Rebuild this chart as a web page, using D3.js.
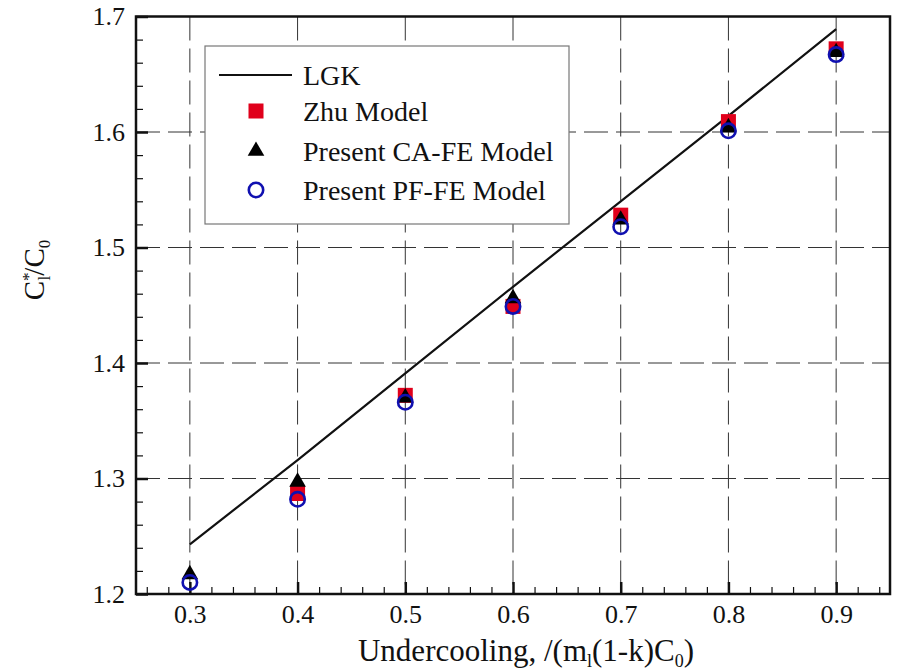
<!DOCTYPE html>
<html>
<head>
<meta charset="utf-8">
<script src="https://cdn.jsdelivr.net/npm/d3@7"></script>
<style>
  body { margin: 0; background: #fff; }
  text { font-family: "Liberation Serif", "Times New Roman", serif; fill: #111; }
</style>
</head>
<body>
<svg id="chart" width="898" height="672"></svg>
<script>
// data (no Zhu point visible at 0.3)
const undercooling = [0.3, 0.4, 0.5, 0.6, 0.7, 0.8, 0.9];
const lgk     = [1.243, 1.316, 1.391, 1.466, 1.540, 1.614, 1.689];
const zhu     = [null, 1.287, 1.372, 1.449, 1.528, 1.609, 1.672];
const caFe    = [1.217, 1.297, 1.370, 1.456, 1.524, 1.604, 1.669];
const pfFe    = [1.210, 1.282, 1.366, 1.449, 1.518, 1.601, 1.667];
const xTicks  = [0.3, 0.4, 0.5, 0.6, 0.7, 0.8, 0.9];
const yTicks  = [1.2, 1.3, 1.4, 1.5, 1.6, 1.7];
const legendNames = ['LGK', 'Zhu Model', 'Present CA-FE Model', 'Present PF-FE Model'];

const margin = {top: 16.5, right: 8, bottom: 78, left: 136};
const width = 898 - margin.left - margin.right;
const height = 672 - margin.top - margin.bottom;

const svg = d3.select('#chart');
const g = svg.append('g').attr('transform', `translate(${margin.left},${margin.top})`);

const x = d3.scaleLinear().domain([0.25, 0.95]).range([0, width]);
const y = d3.scaleLinear().domain([1.2, 1.7]).range([height, 0]);

const pts = vals => vals.map((v, i) => ({u: undercooling[i], v})).filter(d => d.v != null);

// dashed grid
g.append('g').selectAll('line').data(xTicks).join('line')
  .attr('x1', d => x(d)).attr('x2', d => x(d))
  .attr('y1', 0).attr('y2', height)
  .attr('stroke', '#333').attr('stroke-width', 1).attr('stroke-dasharray', '24,8');
g.append('g').selectAll('line').data(yTicks.slice(1, -1)).join('line')
  .attr('x1', 0).attr('x2', width)
  .attr('y1', d => y(d)).attr('y2', d => y(d))
  .attr('stroke', '#333').attr('stroke-width', 1).attr('stroke-dasharray', '24,8');

// minor ticks (inside)
const xMinor = d3.range(0.26, 0.95, 0.02).filter(v => Math.abs(v * 10 - Math.round(v * 10)) > 1e-6);
const yMinor = d3.range(1.22, 1.7, 0.02).filter(v => Math.abs(v * 10 - Math.round(v * 10)) > 1e-6);
g.append('g').attr('transform', `translate(0,${height})`)
  .call(d3.axisBottom(x).tickValues(xMinor).tickSize(-7).tickFormat(''))
  .call(a => a.select('.domain').remove())
  .selectAll('line').attr('stroke', '#111').attr('stroke-width', 1.2);
g.append('g')
  .call(d3.axisLeft(y).tickValues(yMinor).tickSize(-7).tickFormat(''))
  .call(a => a.select('.domain').remove())
  .selectAll('line').attr('stroke', '#111').attr('stroke-width', 1.2);

// major ticks + labels
const xAxis = g.append('g').attr('transform', `translate(0,${height})`)
  .call(d3.axisBottom(x).tickValues(xTicks).tickSize(-12).tickPadding(11).tickFormat(d3.format('.1f')));
xAxis.select('.domain').remove();
xAxis.selectAll('line').attr('stroke', '#111').attr('stroke-width', 2.5);
xAxis.selectAll('text').style('font-size', '26px').attr('fill', '#111');

const yAxis = g.append('g')
  .call(d3.axisLeft(y).tickValues(yTicks).tickSize(-12).tickPadding(11).tickFormat(d3.format('.1f')));
yAxis.select('.domain').remove();
yAxis.selectAll('line').attr('stroke', '#111').attr('stroke-width', 2.5);
yAxis.selectAll('text').style('font-size', '26px').attr('fill', '#111');

// frame
g.append('rect').attr('width', width).attr('height', height)
  .attr('fill', 'none').attr('stroke', '#111').attr('stroke-width', 2.5);

// LGK line
const line = d3.line().x(d => x(d.u)).y(d => y(d.v));
g.append('path').datum(pts(lgk)).attr('d', line)
  .attr('fill', 'none').attr('stroke', '#111').attr('stroke-width', 2.2);

// markers
const sq = 15;
g.append('g').selectAll('rect').data(pts(zhu)).join('rect')
  .attr('x', d => x(d.u) - sq / 2).attr('y', d => y(d.v) - sq / 2)
  .attr('width', sq).attr('height', sq).attr('fill', '#e0001b');
const tri = d3.symbol().type(d3.symbolTriangle).size(120);
g.append('g').selectAll('path').data(pts(caFe)).join('path')
  .attr('d', tri).attr('transform', d => `translate(${x(d.u)},${y(d.v)})`)
  .attr('fill', '#000');
g.append('g').selectAll('circle').data(pts(pfFe)).join('circle')
  .attr('cx', d => x(d.u)).attr('cy', d => y(d.v)).attr('r', 7.2)
  .attr('fill', 'none').attr('stroke', '#1010b0').attr('stroke-width', 2.6);

// legend
const lg = svg.append('g').attr('transform', 'translate(205,46)');
lg.append('rect').attr('width', 364).attr('height', 178)
  .attr('fill', '#fff').attr('stroke', '#777').attr('stroke-width', 1.2);
const rowY = [29, 65, 105, 144];
lg.selectAll('text').data(legendNames).join('text')
  .attr('x', 98).attr('y', (d, i) => rowY[i]).attr('dy', '0.35em')
  .style('font-size', '28px').text(d => d);
lg.append('line').attr('x1', 14).attr('x2', 87).attr('y1', rowY[0]).attr('y2', rowY[0])
  .attr('stroke', '#111').attr('stroke-width', 2.2);
lg.append('rect').attr('x', 51 - sq / 2).attr('y', rowY[1] - sq / 2)
  .attr('width', sq).attr('height', sq).attr('fill', '#e0001b');
lg.append('path').attr('d', tri).attr('transform', `translate(51,${rowY[2]})`).attr('fill', '#000');
lg.append('circle').attr('cx', 51).attr('cy', rowY[3]).attr('r', 7.2)
  .attr('fill', 'none').attr('stroke', '#1010b0').attr('stroke-width', 2.6);

// axis titles
const xt = svg.append('text').attr('x', 526).attr('y', 661)
  .attr('text-anchor', 'middle').style('font-size', '31px');
xt.append('tspan').text('Undercooling, /(m');
xt.append('tspan').attr('dy', 6).style('font-size', '18px').text('l');
xt.append('tspan').attr('dy', -6).text('(1-k)C');
xt.append('tspan').attr('dy', 6).style('font-size', '18px').text('0');
xt.append('tspan').attr('dy', -6).text(')');

const yt = svg.append('text').attr('transform', 'translate(44,270) rotate(-90)')
  .attr('text-anchor', 'middle').style('font-size', '29px');
yt.append('tspan').text('C');
yt.append('tspan').attr('dy', -10).style('font-size', '17px').text('*');
yt.append('tspan').attr('dx', -8).attr('dy', 16).style('font-size', '17px').text('l');
yt.append('tspan').attr('dy', -6).text('/C');
yt.append('tspan').attr('dy', 6).style('font-size', '17px').text('0');
</script>
</body>
</html>
